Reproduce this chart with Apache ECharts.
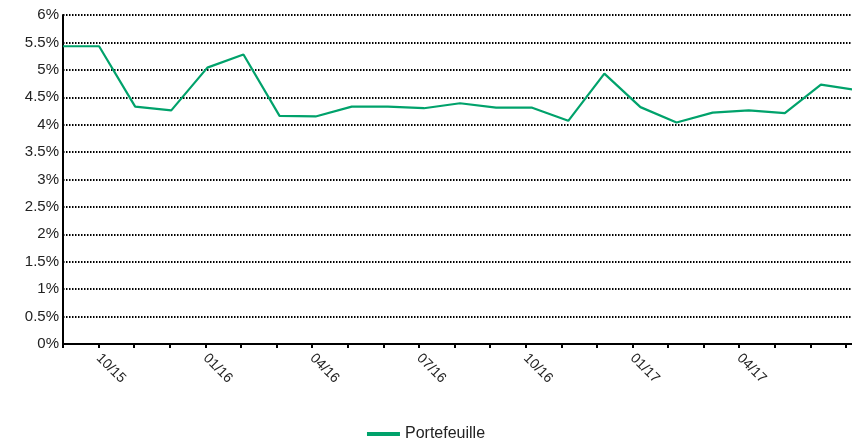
<!DOCTYPE html>
<html>
<head>
<meta charset="utf-8">
<script src="https://cdn.jsdelivr.net/npm/echarts@6/dist/echarts.min.js"></script>
<style>
html,body{margin:0;padding:0;background:#fff;}
#chart{width:852px;height:442px;}
</style>
</head>
<body>
<div id="chart"></div>
<script>
// Data
var months = ['09/15','10/15','11/15','12/15','01/16','02/16','03/16','04/16','05/16','06/16','07/16','08/16',
              '09/16','10/16','11/16','12/16','01/17','02/17','03/17','04/17','05/17','06/17','07/17'];
var portefeuille = [5.43,5.43,4.33,4.26,5.04,5.28,4.16,4.15,4.33,4.33,4.30,4.39,
                    4.31,4.31,4.07,4.93,4.32,4.04,4.22,4.26,4.21,4.73,4.63];
var yTicks = {min:0, max:6, step:0.5};
var labelledMonths = ['10/15','01/16','04/16','07/16','10/16','01/17','04/17'];
var seriesName = 'Portefeuille';

var FONT = 'Liberation Sans, Arial, sans-serif';
var GREEN = '#00a26b';

var chart = echarts.init(document.getElementById('chart'), null, {renderer:'canvas'});
chart.setOption({
  animation:false,
  backgroundColor:'#fff',
  grid:[
    {left:63, right:-5, top:15, bottom:98, outerBoundsMode:'none', containLabel:false},
    {left:63, right:6, top:15, bottom:98, outerBoundsMode:'none', containLabel:false}
  ],
  legend:{
    data:[seriesName],
    left:'center', top:421,
    icon:'rect', itemWidth:33, itemHeight:4, itemGap:10,
    textStyle:{fontFamily:FONT, fontSize:16, color:'#222'}
  },
  xAxis:[
    {
      gridIndex:0, type:'category', boundaryGap:false, data:months,
      axisLine:{show:true, lineStyle:{color:'#000', width:2}},
      axisTick:{show:false}, axisLabel:{show:false}, splitLine:{show:false}
    },
    {
      gridIndex:1, type:'category', boundaryGap:false, data:months,
      axisLine:{show:false},
      axisTick:{show:true, interval:0, length:4, lineStyle:{color:'#000', width:2}},
      axisLabel:{
        show:true, rotate:-45, margin:12,
        interval:function(i, v){ return labelledMonths.indexOf(v) >= 0; },
        fontFamily:FONT, fontSize:14, color:'#222'
      },
      splitLine:{show:false}
    }
  ],
  yAxis:[
    {
      gridIndex:0, type:'value', min:yTicks.min, max:yTicks.max, interval:yTicks.step,
      axisLine:{show:true, lineStyle:{color:'#000', width:2}},
      axisTick:{show:false},
      axisLabel:{margin:4, fontFamily:FONT, fontSize:15, color:'#222',
        formatter:function(v){ return (Math.round(v*10)/10) + '%'; }},
      splitLine:{show:true, lineStyle:{color:'#000', width:1.8, type:[1.5,1.5]}}
    },
    {gridIndex:1, type:'value', show:false, min:0, max:1}
  ],
  series:[{
    name:seriesName, type:'line', xAxisIndex:0, yAxisIndex:0,
    data:portefeuille, symbol:'none', smooth:false,
    lineStyle:{color:GREEN, width:2.2},
    itemStyle:{color:GREEN}
  }]
});
</script>
</body>
</html>
